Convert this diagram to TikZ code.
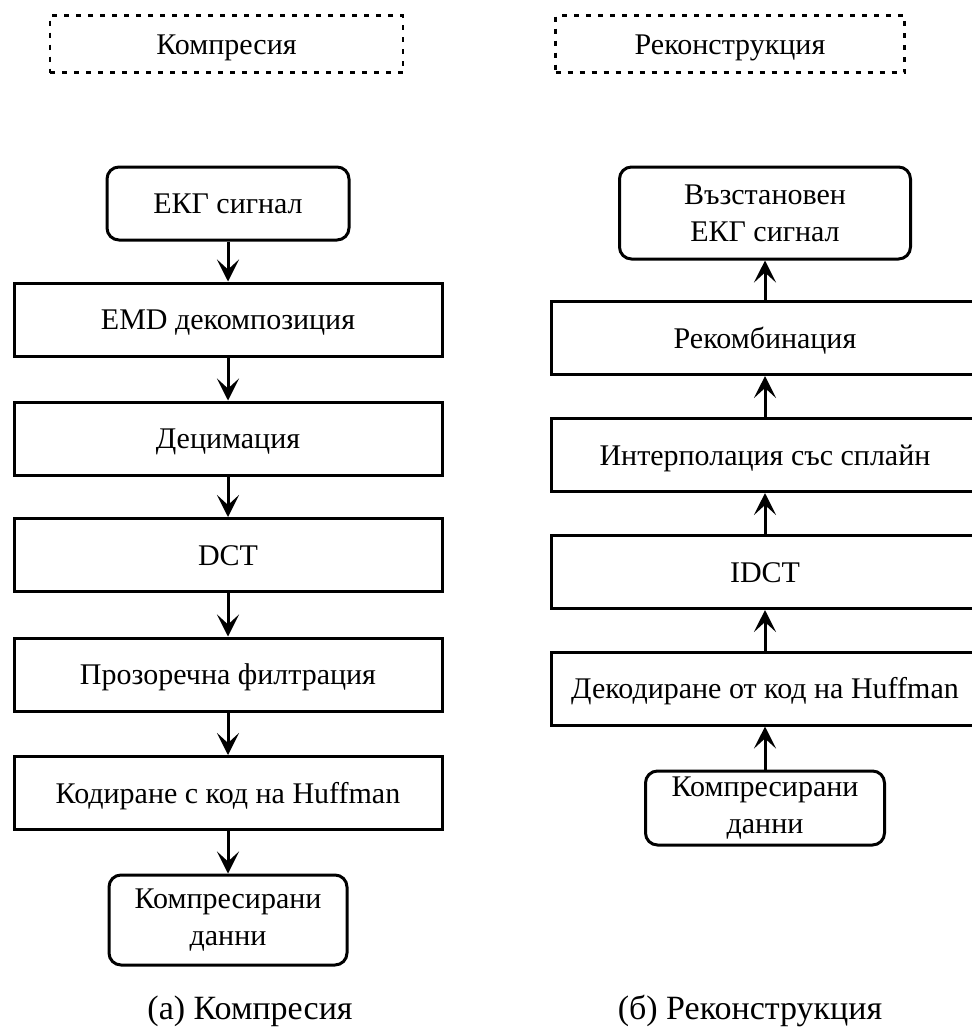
\documentclass[tikz,border=0pt]{standalone}
\usepackage{fontspec}
\setmainfont{Liberation Serif}
\usetikzlibrary{arrows.meta}
\begin{document}
\begin{tikzpicture}[x=1pt,y=-1pt,
  every node/.style={font=\fontsize{30}{37}\selectfont, align=center, inner sep=0pt},
  oneline/.style={text height=20pt, text depth=0pt},
  proc/.style={draw, line width=3pt, minimum width=428pt, minimum height=73pt, oneline},
  term/.style={draw, line width=3pt, rounded corners=12pt},
  tag/.style={draw, line width=2.6pt, dash pattern=on 5pt off 7pt, minimum height=57pt, oneline},
  flow/.style={line width=3pt, -{Stealth[length=22pt,width=22pt,inset=10pt]}},
  captext/.style={font=\fontsize{34}{40}\selectfont, anchor=base}
]
\useasboundingbox (0,0) rectangle (972,1029);
\clip (0,0) rectangle (972,1029);

% section labels
\node[tag, minimum width=353pt] (tagL) at (226.5,44) {Компресия};
\node[tag, minimum width=349pt] (tagR) at (730,44) {Реконструкция};

% compression chain
\node[term, oneline, minimum width=242pt, minimum height=73pt] (ecg) at (228,203.5) {ЕКГ сигнал};
\node[proc] (emd) at (228,319.5) {EMD декомпозиция};
\node[proc] (dec) at (228,438.5) {Децимация};
\node[proc] (dct) at (228,555) {DCT};
\node[proc] (win) at (228,674.5) {Прозоречна филтрация};
\node[proc] (huf) at (228,793) {Кодиране с код на Huffman};
\node[term, minimum width=238pt, minimum height=90pt] (cdL) at (228,920) {Компресирани\\данни};

\draw[flow] (ecg) -- (emd);
\draw[flow] (emd) -- (dec);
\draw[flow] (dec) -- (dct);
\draw[flow] (dct) -- (win);
\draw[flow] (win) -- (huf);
\draw[flow] (huf) -- (cdL);

% reconstruction chain
\node[term, minimum width=291pt, minimum height=92pt] (rec) at (765,213) {Възстановен\\ЕКГ сигнал};
\node[proc] (rcm) at (765,338) {Рекомбинация};
\node[proc] (itp) at (765,455) {Интерполация със сплайн};
\node[proc] (idct) at (765,572) {IDCT};
\node[proc] (hdec) at (765,688.5) {Декодиране от код на Huffman};
\node[term, minimum width=239pt, minimum height=74pt] (cdR) at (765,808) {Компресирани\\данни};

\draw[flow] (rcm) -- (rec);
\draw[flow] (itp) -- (rcm);
\draw[flow] (idct) -- (itp);
\draw[flow] (hdec) -- (idct);
\draw[flow] (cdR) -- (hdec);

% sub-captions
\node[captext] (capL) at (250,1019) {(а) Компресия};
\node[captext] (capR) at (750,1019) {(б) Реконструкция};
\end{tikzpicture}
\end{document}
